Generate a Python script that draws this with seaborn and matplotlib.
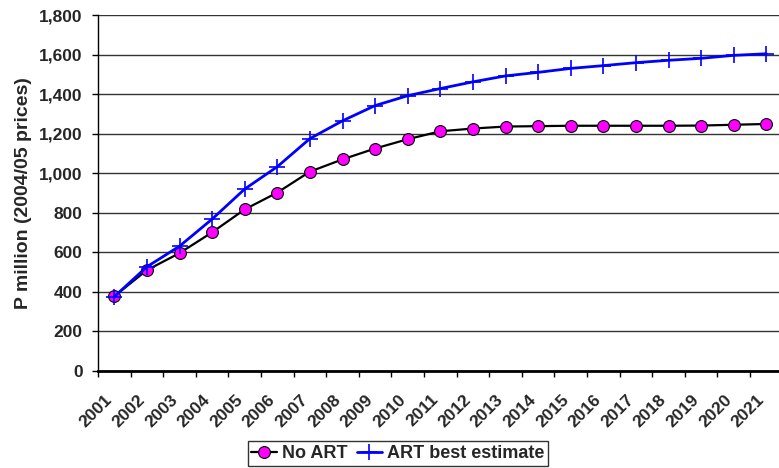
import numpy as np
import pandas as pd
import matplotlib
matplotlib.use("Agg")
import matplotlib.pyplot as plt
import seaborn as sns
from matplotlib.ticker import FuncFormatter, MultipleLocator

years = [str(y) for y in range(2001, 2022)]
no_art = [378, 510, 596, 701, 817, 902, 1008, 1070, 1125, 1172, 1212, 1226,
          1236, 1238, 1240, 1240, 1240, 1240, 1241, 1245, 1249]
art_best = [376, 527, 631, 768, 920, 1033, 1175, 1265, 1342, 1392, 1428, 1462,
            1492, 1510, 1530, 1544, 1559, 1571, 1581, 1596, 1604]
series_names = ["No ART", "ART best estimate"]

sns.set_style("white")
plt.rcParams['font.family'] = ['Liberation Sans', 'DejaVu Sans']
plt.rcParams['font.weight'] = 'bold'

fig = plt.figure(figsize=(7.79, 4.68), dpi=100)
W, H = 779, 468
left, top, bottom = 98, 15, 371
right = 98 + 21 * 32.6
ax = fig.add_axes([left / W, 1 - bottom / H, (right - left) / W, (bottom - top) / H])

pos = np.arange(len(years))
df = pd.DataFrame({"pos": pos, "no_art": no_art, "art": art_best})

sns.lineplot(data=df, x="pos", y="no_art", ax=ax, color="black", linewidth=1.6,
             marker="o", markersize=8.5, markerfacecolor="#ff00ff",
             markeredgecolor="black", markeredgewidth=0.8, label=series_names[0], zorder=3)
sns.lineplot(data=df, x="pos", y="art", ax=ax, color="#0000ff", linewidth=2,
             marker="+", markersize=11, markeredgewidth=1.2,
             markeredgecolor="#0000ff", markerfacecolor="#0000ff",
             label=series_names[1], zorder=4)

ax.set_xlim(-0.5, len(years) - 0.5)
ax.set_ylim(0, 1800)
ax.yaxis.set_major_locator(MultipleLocator(200))
ax.yaxis.set_major_formatter(FuncFormatter(lambda v, p: f"{int(v):,}"))
ax.grid(axis='y', color='#333333', linewidth=1)
ax.set_axisbelow(True)

# labels anchored slightly left of category centres (as in the original)
ax.set_xticks(pos - 0.3)
ax.set_xticklabels(years, rotation=45, ha='right', rotation_mode='anchor',
                   fontsize=12.5, fontweight='bold')
ax.set_xticks(np.arange(-0.5, len(years), 1), minor=True)
ax.tick_params(axis='x', which='major', length=0, pad=15)
ax.tick_params(axis='x', which='minor', length=4, width=1, color='black', direction='out', bottom=True)
ax.tick_params(axis='y', length=4, width=1, color='black', direction='out', left=True,
               labelsize=12.5, pad=7)
for lab in ax.get_yticklabels():
    lab.set_fontweight('bold')

for s in ['top', 'right']:
    ax.spines[s].set_visible(False)
ax.spines['left'].set_color('black')
ax.spines['left'].set_linewidth(1)
ax.spines['bottom'].set_color('black')
ax.spines['bottom'].set_linewidth(2)

ax.set_xlabel("")
ax.set_ylabel("P million (2004/05 prices)", fontsize=14, fontweight='bold', labelpad=5)

ax.get_legend().remove()
handles, labels = ax.get_legend_handles_labels()
leg = fig.legend(handles, labels, loc='center', bbox_to_anchor=(398 / W, 1 - 453.5 / H),
                 ncol=2, frameon=True, fancybox=False, edgecolor='black',
                 prop={'weight': 'bold', 'size': 13}, handlelength=1.4,
                 handletextpad=0.3, columnspacing=0.5, borderpad=0.2)
leg.get_frame().set_linewidth(1)

fig.savefig("out.png", dpi=100)
